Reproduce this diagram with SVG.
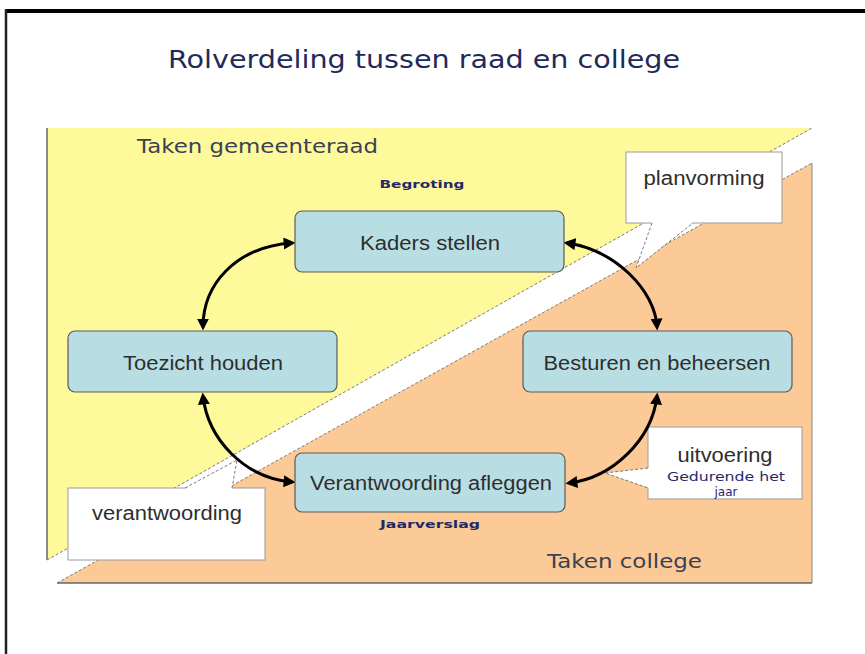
<svg xmlns="http://www.w3.org/2000/svg" width="865" height="654" viewBox="0 0 865 654">
<defs>
<style>
.node rect{fill:#B8DEE4;stroke:#5a5a5a;stroke-width:1.2}
.lbl{font-family:"Liberation Sans",Arial,sans-serif;font-size:20px;fill:#2e2e2e;text-anchor:middle}
.small{font-family:"DejaVu Sans",Verdana,sans-serif;font-size:11px;font-weight:bold;fill:#1F2A6B;text-anchor:middle}
.task{font-family:"DejaVu Sans",Verdana,sans-serif;font-size:20px;fill:#3a4152}
.callout{fill:#fff;stroke:#9a9a9a;stroke-width:1}
.dash{fill:none;stroke:#7a7a7a;stroke-width:1;stroke-dasharray:3 2}
.conn{fill:none;stroke:#000;stroke-width:3;marker-start:url(#ah);marker-end:url(#ah)}
</style>
<marker id="ah" viewBox="0 0 10 10" refX="7" refY="5" markerWidth="4" markerHeight="4" orient="auto-start-reverse" markerUnits="strokeWidth">
<path d="M0,0 L10,5 L0,10 z" fill="#000"/>
</marker>
</defs>
<rect width="865" height="654" fill="#fff"/>
<!-- frame -->
<line x1="5" y1="11" x2="865" y2="11" stroke="#000" stroke-width="4"/>
<line x1="6" y1="9" x2="6" y2="654" stroke="#222" stroke-width="2.5"/>
<!-- title -->
<text x="168" y="68" font-family="'DejaVu Sans',Verdana,sans-serif" font-size="25" fill="#1F2A5C" textLength="512" lengthAdjust="spacingAndGlyphs">Rolverdeling tussen raad en college</text>
<!-- background areas -->
<g id="background">
<polygon points="47,128 812,128 47,560" fill="#FEFA9C"/>
<polygon points="57,583 812,163 812,583" fill="#FCCA96"/>
<line x1="47" y1="128" x2="47" y2="560" stroke="#666" stroke-width="1.5"/>
<line x1="57" y1="583" x2="812" y2="583" stroke="#666" stroke-width="1.5"/>
<line x1="812" y1="163" x2="812" y2="583" stroke="#888" stroke-width="1"/>
<line class="dash" x1="47" y1="560" x2="812" y2="128"/>
<line class="dash" x1="57" y1="583" x2="812" y2="163"/>
<text class="task" x="137" y="153" textLength="241" lengthAdjust="spacingAndGlyphs">Taken gemeenteraad</text>
<text class="task" x="547" y="568" textLength="155" lengthAdjust="spacingAndGlyphs">Taken college</text>
</g>
<!-- callouts -->
<g id="callout-planvorming">
<rect class="callout" x="626" y="152" width="156" height="71"/>
<polygon points="652,222 693,222 636,268" fill="#fff"/>
<polyline class="dash" points="652,223 636,268 693,223"/>
<text class="lbl" x="704" y="185" textLength="121" lengthAdjust="spacingAndGlyphs">planvorming</text>
</g>
<g id="callout-verantwoording">
<rect class="callout" x="68" y="488" width="197" height="72"/>
<polygon points="185,489 232,489 237,460" fill="#fff"/>
<polyline class="dash" points="185,488 237,460 232,488"/>
<text class="lbl" x="167" y="520" textLength="150" lengthAdjust="spacingAndGlyphs">verantwoording</text>
</g>
<g id="callout-uitvoering">
<rect class="callout" x="648" y="427" width="154" height="72"/>
<polygon points="649,468 649,488 605,473" fill="#fff"/>
<polyline class="dash" points="648,468 605,473 648,488"/>
<text class="lbl" x="725" y="462" textLength="95" lengthAdjust="spacingAndGlyphs">uitvoering</text>
<text x="726" y="481" font-family="'DejaVu Sans',Verdana,sans-serif" font-size="12" fill="#1F2A6B" text-anchor="middle" textLength="118" lengthAdjust="spacingAndGlyphs">Gedurende het</text>
<text x="726" y="496" font-family="'DejaVu Sans',Verdana,sans-serif" font-size="12" fill="#1F2A6B" text-anchor="middle">jaar</text>
</g>
<!-- connectors -->
<g id="connectors">
<path class="conn" d="M203,327 C203,285 235,247 292,243"/>
<path class="conn" d="M567,243 C615,250 655,290 657,327"/>
<path class="conn" d="M657,396 C652,440 612,478 569,483"/>
<path class="conn" d="M203,396 C208,440 245,478 292,482"/>
</g>
<!-- nodes -->
<g id="kaders" class="node">
<rect x="295" y="211" width="269" height="61" rx="7"/>
<text class="lbl" x="430" y="250" textLength="140" lengthAdjust="spacingAndGlyphs">Kaders stellen</text>
</g>
<g id="toezicht" class="node">
<rect x="68" y="331" width="269" height="61" rx="7"/>
<text class="lbl" x="203" y="370" textLength="160" lengthAdjust="spacingAndGlyphs">Toezicht houden</text>
</g>
<g id="besturen" class="node">
<rect x="523" y="331" width="269" height="61" rx="7"/>
<text class="lbl" x="657" y="370" textLength="227" lengthAdjust="spacingAndGlyphs">Besturen en beheersen</text>
</g>
<g id="verantwoording-afleggen" class="node">
<rect x="295" y="453" width="270" height="59" rx="7"/>
<text class="lbl" x="431" y="490" textLength="242" lengthAdjust="spacingAndGlyphs">Verantwoording afleggen</text>
</g>
<text class="small" x="422" y="188" textLength="85" lengthAdjust="spacingAndGlyphs">Begroting</text>
<text class="small" x="430" y="528" textLength="100" lengthAdjust="spacingAndGlyphs">Jaarverslag</text>
</svg>
